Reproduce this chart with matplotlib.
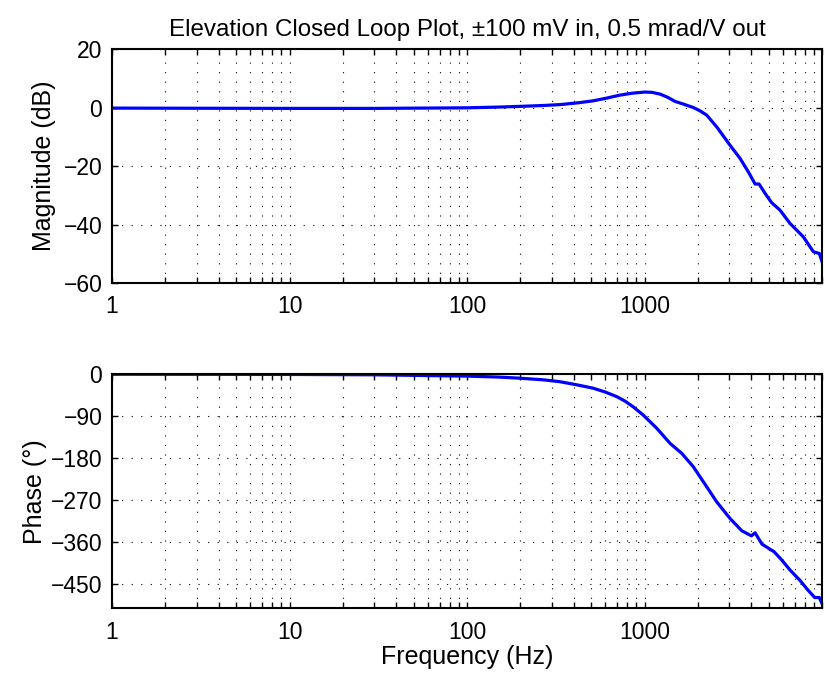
import matplotlib
matplotlib.use("Agg")
import matplotlib.pyplot as plt
from matplotlib.ticker import FixedLocator, NullFormatter

# Closed-loop frequency response (elevation axis)
freq_hz = [1, 3, 10, 30, 100, 150, 200, 270, 334, 420, 515, 620, 728, 850, 1006,
           1100, 1223, 1350, 1485, 1650, 1883, 2050, 2240, 2548, 3030, 3451,
           3850, 4196, 4417, 4800, 5200, 5790, 6600, 7850, 8940, 9660, 10000]
magnitude_db = [-0.1, -0.15, -0.2, -0.2, 0.0, 0.25, 0.5, 0.8, 1.1, 1.7, 2.4, 3.4,
                4.35, 5.0, 5.4, 5.3, 4.7, 3.6, 2.2, 1.3, 0.1, -1.0, -2.5, -6.5,
                -12.8, -17.3, -22.0, -26.1, -26.1, -29.5, -32.5, -35.0, -39.6,
                -44.2, -49.3, -49.9, -52.7]

phase_freq_hz = [1, 3, 10, 30, 100, 150, 200, 270, 334, 420, 515, 600, 698, 780,
                 865, 982, 1172, 1392, 1620, 1883, 2240, 2548, 3030, 3530, 4000,
                 4196, 4588, 5370, 5940, 6600, 7500, 8330, 9100, 9660, 10000]
phase_deg = [0, -0.1, -0.4, -1.2, -4, -6, -8.5, -12, -16, -23, -30, -38, -48,
             -58, -70, -87.2, -115.7, -147.9, -169.3, -198, -240.9, -273,
             -308.6, -335, -345.9, -339.4, -363.7, -380, -398, -419, -441, -462,
             -478, -478, -491]

mag_ticks = [-60, -40, -20, 0, 20]
phase_ticks = [-450, -360, -270, -180, -90, 0]
freq_ticks = [1, 10, 100, 1000]
freq_tick_labels = ["1", "10", "100", "1000"]

plt.rcParams["font.family"] = ["Liberation Sans", "DejaVu Sans"]

fig = plt.figure(figsize=(8.25, 6.77), dpi=100)
ax_mag = fig.add_axes([0.1358, 0.582, 0.8606, 0.345])
ax_ph = fig.add_axes([0.1358, 0.1015, 0.8606, 0.3457])

minor_pos = [m * 10 ** d for d in range(4) for m in range(2, 10)] + [10000]

def style_axis(ax):
    ax.set_xscale("log")
    ax.set_xlim(1, 10000)
    ax.xaxis.set_major_locator(FixedLocator(freq_ticks))
    ax.set_xticklabels(freq_tick_labels)
    ax.xaxis.set_minor_locator(FixedLocator(minor_pos))
    ax.xaxis.set_minor_formatter(NullFormatter())
    ax.tick_params(which="both", direction="in", top=True, right=True,
                   length=4, width=1.0, labelsize=16.5)
    ax.tick_params(axis="x", which="major", pad=9)
    ax.tick_params(axis="y", which="major", pad=7)
    for s in ax.spines.values():
        s.set_linewidth(1.5)
    grid_kw = dict(color="0.1", linewidth=0.8, linestyle=(0, (1.1, 7.5)))
    ax.grid(True, which="both", axis="x", **grid_kw)
    ax.grid(True, which="major", axis="y", **grid_kw)
    ax.set_axisbelow(True)

style_axis(ax_mag)
ax_mag.plot(freq_hz, magnitude_db, color=(0, 0, 1), linewidth=2.3)
ax_mag.set_ylim(-60, 20)
ax_mag.set_yticks(mag_ticks)
ax_mag.set_ylabel("Magnitude (dB)", fontsize=18, labelpad=5)
ax_mag.set_title("Elevation Closed Loop Plot, \u00b1100 mV in, 0.5 mrad/V out",
                 fontsize=17.4, pad=10)

style_axis(ax_ph)
ax_ph.plot(phase_freq_hz, phase_deg, color=(0, 0, 1), linewidth=2.3)
ax_ph.set_ylim(-501, 0)
ax_ph.set_yticks(phase_ticks)
ax_ph.set_ylabel("Phase (\u00b0)", fontsize=18, labelpad=3)
ax_ph.set_xlabel("Frequency (Hz)", fontsize=18, labelpad=1)

fig.savefig("out.png", dpi=100)
